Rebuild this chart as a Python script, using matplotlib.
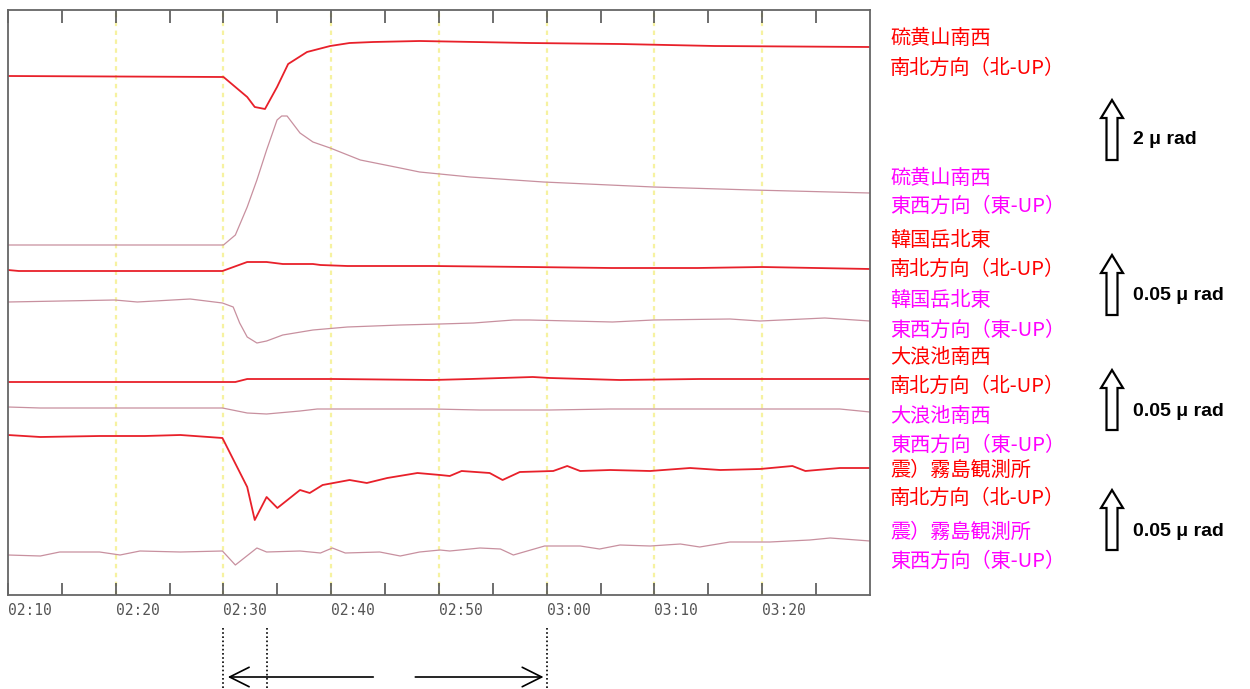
import numpy as np
import matplotlib.pyplot as plt
from matplotlib.patches import FancyArrow
from matplotlib.transforms import blended_transform_factory

# time axis: minutes after 02:10
tick_times = [0, 10, 20, 30, 40, 50, 60, 70]
tick_labels = ['02:10', '02:20', '02:30', '02:40', '02:50', '03:00', '03:10', '03:20']

# trace levels (stacked offsets, arbitrary units, up = positive)
iou_ns_t = [0, 20, 22.2, 22.9, 23.85, 24.97, 26, 27.75, 29.9, 31.7, 33.9, 38.2, 48.4, 56.8, 65.6, 80]
iou_ns = [519, 518, 498, 488, 486, 508, 531, 543, 549, 552, 553, 554, 552, 551, 549, 548]

iou_ew_t = [0, 20, 21.1, 22.2, 23.1, 24.0, 24.97, 25.4, 25.9, 27.1, 28.3, 29.9, 32.7, 36.4, 38.2,
            42.9, 49.7, 59.9, 69.1, 80]
iou_ew = [350, 350, 360, 388, 415, 445, 475, 479, 479, 462, 453, 447, 435, 427, 423,
          418, 413, 408, 405, 402]

kara_ns_t = [0, 1, 19.9, 22.2, 24, 25.5, 28.3, 29, 31.5, 39.4, 48.4, 56, 64, 70, 75, 80]
kara_ns = [325, 324, 324, 333, 333, 331, 331, 330, 329, 329, 328, 327, 327, 328, 327, 326]

kara_ew_t = [0, 5, 9.9, 12, 16.9, 19.9, 20.9, 21.5, 22.2, 23.1, 24, 25.5, 28.3, 31.5, 36.4, 40.1,
             43.2, 46.9, 48.4, 56.1, 59.9, 67, 69.8, 75.8, 80]
kara_ew = [293, 294, 295, 293, 296, 292, 288, 272, 258, 252, 254, 260, 265, 268, 270, 271,
           272, 275, 275, 273, 275, 276, 274, 277, 274]

oona_ns_t = [0, 21.1, 22.2, 25.5, 30.2, 39.4, 42.9, 48.7, 50.3, 56.8, 64.2, 80]
oona_ns = [213, 213, 216, 216, 216, 215, 216, 218, 217, 215, 216, 216]

oona_ew_t = [0, 3, 19.9, 22.2, 24, 27.1, 28.7, 39.4, 43.8, 50.3, 55.9, 64.2, 77.2, 80]
oona_ew = [188, 187, 187, 182, 181, 184, 186, 186, 185, 185, 186, 186, 186, 183]

kiri_ns_t = [0, 3, 8.5, 12.7, 16, 19.9, 22.2, 22.9, 24, 25, 27.1, 28, 29.2, 31.7, 33.3, 35.2, 38,
             40.1, 41, 42.1, 44.7, 45.9, 47.5, 50.6, 51.9, 53.1, 55.9, 59.6, 63.3, 66.1, 69.8,
             72.8, 74, 77.2, 80]
kiri_ns = [160, 158, 159, 159, 160, 157, 108, 75, 98, 87, 105, 102, 110, 115, 112, 117, 122,
           120, 119, 124, 122, 115, 123, 124, 129, 124, 125, 124, 127, 125, 126,
           129, 124, 127, 127]

kiri_ew_t = [0, 3, 4.8, 8.5, 10.4, 12.25, 16, 19.9, 21.1, 23.1, 24, 27.1, 29, 30.1, 31.3, 34.5,
             36.4, 38.2, 40.1, 41, 43.8, 45.7, 46.9, 49.8, 53.1, 54.9, 56.8, 59.6, 62.4, 64.2,
             67, 70.7, 74.4, 76.3, 80]
kiri_ew = [40, 39, 43, 43, 40, 44, 43, 44, 30, 47, 43, 44, 42, 47, 42, 43,
           39, 43, 45, 44, 47, 46, 40, 49, 49, 46, 50, 49, 51, 48,
           53, 53, 55, 57, 54]

ns_color = '#e8202a'
ew_color = '#c8909f'

fig = plt.figure(figsize=(12.5, 6.89), dpi=100)
ax = fig.add_axes([8 / 1250, 94 / 689, 862 / 1250, 585 / 689])

for t in tick_times[1:]:
    ax.axvline(t, color='#f6f2a0', lw=1.6, ls=(0, (2, 2)), zorder=0)

ax.plot(iou_ns_t, iou_ns, color=ns_color, lw=1.3)
ax.plot(iou_ew_t, iou_ew, color=ew_color, lw=0.9)
ax.plot(kara_ns_t, kara_ns, color=ns_color, lw=1.3)
ax.plot(kara_ew_t, kara_ew, color=ew_color, lw=0.9)
ax.plot(oona_ns_t, oona_ns, color=ns_color, lw=1.3)
ax.plot(oona_ew_t, oona_ew, color=ew_color, lw=0.9)
ax.plot(kiri_ns_t, kiri_ns, color=ns_color, lw=1.3)
ax.plot(kiri_ew_t, kiri_ew, color=ew_color, lw=0.9)

ax.set_xlim(0, 80)
ax.set_ylim(0, 585)
ax.set_yticks([])
ax.set_xticks(tick_times)
ax.set_xticklabels(tick_labels, family='DejaVu Sans Mono', fontsize=10.5, color='#555555')
for lab in ax.get_xticklabels():
    lab.set_ha('left')
ax.set_xticks(np.arange(5, 80, 10), minor=True)
ax.tick_params(axis='x', which='both', direction='in', length=9, width=1.2,
               color='#555555', top=True, pad=6)
for sp in ax.spines.values():
    sp.set_color('#666666')
    sp.set_linewidth(1.3)

# overlay in figure pixels for labels and scale arrows
ov = fig.add_axes([0, 0, 1, 1], zorder=-1)
ov.set_xlim(0, 1250)
ov.set_ylim(689, 0)
ov.axis('off')

cjk = ['Noto Sans CJK JP', 'DejaVu Sans']
labels = [
    ('硫黄山南西', '南北方向（北-UP）', '#ff0000', 38, 68),
    ('硫黄山南西', '東西方向（東-UP）', '#ff00ff', 178, 206),
    ('韓国岳北東', '南北方向（北-UP）', '#ff0000', 240, 269),
    ('韓国岳北東', '東西方向（東-UP）', '#ff00ff', 300, 330),
    ('大浪池南西', '南北方向（北-UP）', '#ff0000', 357, 386),
    ('大浪池南西', '東西方向（東-UP）', '#ff00ff', 416, 445),
    ('震）霧島観測所', '南北方向（北-UP）', '#ff0000', 470, 498),
    ('震）霧島観測所', '東西方向（東-UP）', '#ff00ff', 532, 561),
]
for st, comp, col, y1, y2 in labels:
    ov.text(890, y1, st, family=cjk, fontsize=14.5, color=col, va='center', ha='left')
    ov.text(890, y2, comp, family=cjk, fontsize=14.5, color=col, va='center', ha='left')

scales = [(160, '2 μ rad', 140), (315, '0.05 μ rad', 296),
          (430, '0.05 μ rad', 411), (550, '0.05 μ rad', 531)]
for ybase, txt, ytxt in scales:
    ov.add_patch(FancyArrow(1112, ybase, 0, -60, width=11, head_width=22, head_length=18,
                            length_includes_head=True, fc='white', ec='black', lw=1.6))
    ov.text(1133, ytxt, txt, family='Liberation Sans', fontweight='bold', fontsize=14,
            color='black', va='center', ha='left')

# time span markers below the axis
tr = blended_transform_factory(ax.transData, ov.transData)
for t in [20, 24, 50]:
    ax.plot([t, t], [628, 689], transform=tr, color='black', lw=1.2, ls=(0, (1, 1.5)),
            clip_on=False)
ax.annotate('', xy=(20.4, 677), xytext=(33.9, 677), xycoords=tr, textcoords=tr,
            arrowprops=dict(arrowstyle='->,head_length=1.0,head_width=0.5', color='black',
                            lw=1.2, shrinkA=0, shrinkB=0, mutation_scale=14),
            annotation_clip=False)
ax.annotate('', xy=(49.7, 677), xytext=(37.8, 677), xycoords=tr, textcoords=tr,
            arrowprops=dict(arrowstyle='->,head_length=1.0,head_width=0.5', color='black',
                            lw=1.2, shrinkA=0, shrinkB=0, mutation_scale=14),
            annotation_clip=False)

fig.savefig('out.png', dpi=100, facecolor='white')
